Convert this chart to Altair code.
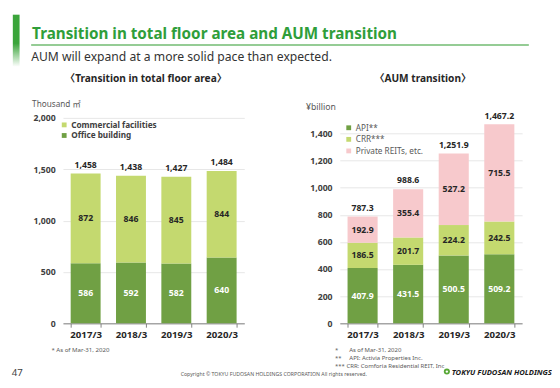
import altair as alt
import pandas as pd

# ---------------- data ----------------
years = ["2017/3", "2018/3", "2019/3", "2020/3"]
office = [586, 592, 582, 640]
commercial = [872, 846, 845, 844]
api = [407.9, 431.5, 500.5, 509.2]
crr = [186.5, 201.7, 224.2, 242.5]
private = [192.9, 355.4, 527.2, 715.5]

floor_series = ["Commercial facilities", "Office building"]
aum_series = ["API**", "CRR***", "Private REITs, etc."]
floor_ticks = [0, 500, 1000, 1500, 2000]
aum_ticks = [0, 200, 400, 600, 800, 1000, 1200, 1400]

floor_df = pd.DataFrame({
    "year": years * 2,
    "series": ["Office building"] * 4 + ["Commercial facilities"] * 4,
    "value": office + commercial,
    "rank": [0] * 4 + [1] * 4,
})
aum_df = pd.DataFrame({
    "year": years * 3,
    "series": ["API**"] * 4 + ["CRR***"] * 4 + ["Private REITs, etc."] * 4,
    "value": api + crr + private,
    "rank": [0] * 4 + [1] * 4 + [2] * 4,
})

# ---------------- styles ----------------
F = "Noto Sans, 'Noto Sans CJK JP'"
DARK = "#70a044"
LIGHT = "#c4d96f"
PINK = "#f7c9cc"
TXT = "#262626"
GRAY = "#595959"
NB = "\u00a0"
one = pd.DataFrame({"k": [0]})


def txt(text, x, y, size, color=TXT, weight="normal", align="left", style="normal"):
    return alt.Chart(one).mark_text(
        text=text, font=F, fontSize=size, fontWeight=weight, color=color,
        align=align, baseline="alphabetic", fontStyle=style,
    ).encode(x=alt.value(x), y=alt.value(y))


def xaxis():
    return alt.Axis(labelAngle=0, labelFont=F, labelFontSize=10, labelFontWeight="bold",
                    labelColor=TXT, labelPadding=3, tickBand="extent", tickSize=4,
                    tickColor="#808080", domainColor="#808080", grid=False, title=None)


def yaxis(vals):
    return alt.Axis(values=vals, format=",d", grid=True, gridColor="#e6e6e6", domain=False,
                    ticks=False, labelPadding=8, labelFont=F, labelFontSize=9,
                    labelFontWeight="bold", labelColor="#404040", title=None,
                    labelOverlap=False, labelBound=False)


def panel(df, series, colors, ticks, ymax, seg_fmt, tot_fmt, white_series, leg):
    base = alt.Chart(df)
    ysc = alt.Scale(domain=[0, ymax], nice=False, zero=True)
    xsc = alt.Scale(paddingInner=0.34, paddingOuter=0.17)
    bars = base.mark_bar().encode(
        x=alt.X("year:N", sort=years, title=None, scale=xsc, axis=xaxis()),
        y=alt.Y("value:Q", stack="zero", title=None, scale=ysc, axis=yaxis(ticks)),
        color=alt.Color("series:N", scale=alt.Scale(domain=series, range=colors), legend=leg),
        order=alt.Order("rank:Q", sort="ascending"),
    )
    seg = base.transform_stack(
        stack="value", groupby=["year"], as_=["v0", "v1"],
        sort=[alt.SortField("rank", order="ascending")],
    ).transform_calculate(mid="(datum.v0 + datum.v1) / 2").mark_text(
        font=F, fontSize=9, fontWeight="bold", baseline="middle"
    ).encode(
        x=alt.X("year:N", sort=years, title=None, scale=xsc, axis=xaxis()),
        y=alt.Y("mid:Q", title=None, scale=ysc, axis=yaxis(ticks)),
        text=alt.Text("value:Q", format=seg_fmt),
        color=alt.condition(alt.datum.series == white_series, alt.value("white"), alt.value(TXT)),
    )
    tot = base.transform_aggregate(total="sum(value)", groupby=["year"]).mark_text(
        font=F, fontSize=9, fontWeight="bold", baseline="alphabetic", dy=-6, color=TXT
    ).encode(
        x=alt.X("year:N", sort=years, title=None, scale=xsc, axis=xaxis()),
        y=alt.Y("total:Q", title=None, scale=ysc, axis=yaxis(ticks)),
        text=alt.Text("total:Q", format=tot_fmt),
    )
    return bars, seg, tot


leg_l = alt.Legend(orient="none", legendX=-3, legendY=15, title=None, symbolType="square",
                   symbolSize=25, symbolStrokeWidth=0, labelFont=F, labelFontSize=8.5,
                   labelFontWeight="bold", labelColor="#404040", labelOffset=3, rowPadding=2,
                   padding=0)
leg_r = alt.Legend(orient="none", legendX=5, legendY=18, title=None, symbolType="square",
                   symbolSize=25, symbolStrokeWidth=0, labelFont=F, labelFontSize=8.5,
                   labelColor=GRAY, labelOffset=3, rowPadding=3, padding=0)

H = 225
bl, sl, tl = panel(floor_df, floor_series, [LIGHT, DARK], floor_ticks, 2113,
                   "d", ",d", "Office building", leg_l)
br, sr, tr = panel(aum_df, aum_series, [DARK, LIGHT, PINK], aum_ticks, 1600,
                   ".1f", ",.1f", "API**", leg_r)

strip = alt.Chart(one).mark_rect(
    color=alt.LinearGradient(
        gradient="linear", x1=0, x2=0, y1=0, y2=1,
        stops=[alt.GradientStop(color="#3ba53b", offset=0),
               alt.GradientStop(color="#3ba53b", offset=0.55),
               alt.GradientStop(color="#ffffff", offset=1)],
    )
).encode(x=alt.value(-52), x2=alt.value(-45), y=alt.value(-95), y2=alt.value(-41))

underline = alt.Chart(one).mark_rule(color="#72bb72", strokeWidth=1.5).encode(
    x=alt.value(-33), x2=alt.value(483), y=alt.value(-63.5))

left_deco = [
    strip, underline,
    txt("Transition in total floor area and AUM transition", -32, -70, 15.8, "#2f9e3a", "bold"),
    txt("AUM will expand at a more solid pace than expected.", -33, -47, 12.6, "#333333"),
    txt("〈Transition in total floor area〉", 86, -25.5, 10.5, TXT, "bold", "center"),
    txt("Thousand ㎡", -32, 1, 8.5, GRAY),
    txt("* As of Mar-31, 2020", -12, 255, 6.3, GRAY),
    txt("47", -53, 280, 10, "#404040"),
    txt("Copyright  \u00a9  TOKYU FUDOSAN HOLDINGS CORPORATION  All rights reserved.", 122, 279.5, 5.4, GRAY),
]

icon = alt.Chart(one).mark_point(shape="circle", filled=True, color="#58a836", size=40, opacity=1).encode(
    x=alt.value(111), y=alt.value(275))
icon_c = alt.Chart(one).mark_point(shape="circle", filled=True, color="white", size=6, opacity=1).encode(
    x=alt.value(111), y=alt.value(275))

right_deco = [
    txt("〈AUM transition〉", 86, -25.5, 10.5, TXT, "bold", "center"),
    txt("¥billion", -35, 3.5, 9, GRAY),
    txt("*" + NB * 7 + "As of Mar-31, 2020", -5, 255, 6.2, GRAY),
    txt("**" + NB * 5 + "API: Activia Properties Inc.", -5, 263, 6.2, GRAY),
    txt("***" + NB + "CRR: Comforia Residential REIT, Inc", -5, 271, 6.2, GRAY),
    icon, icon_c,
    txt("TOKYU FUDOSAN HOLDINGS", 116, 278.5, 7.9, "#1a1a1a", "bold", "left", "italic"),
]

left = alt.layer(bl, sl, tl, *left_deco).properties(width=188, height=H)
right = alt.layer(br, sr, tr, *right_deco).properties(width=189, height=H)

chart = alt.hconcat(left, right, spacing=99, bounds="flush").resolve_scale(
    x="independent", y="independent", color="independent"
).resolve_legend(color="independent").properties(
    padding={"left": 4, "top": 0, "right": 0, "bottom": 0}
).configure_view(stroke=None)

chart.save("out.html", embed_options={"renderer": "svg", "actions": False})
